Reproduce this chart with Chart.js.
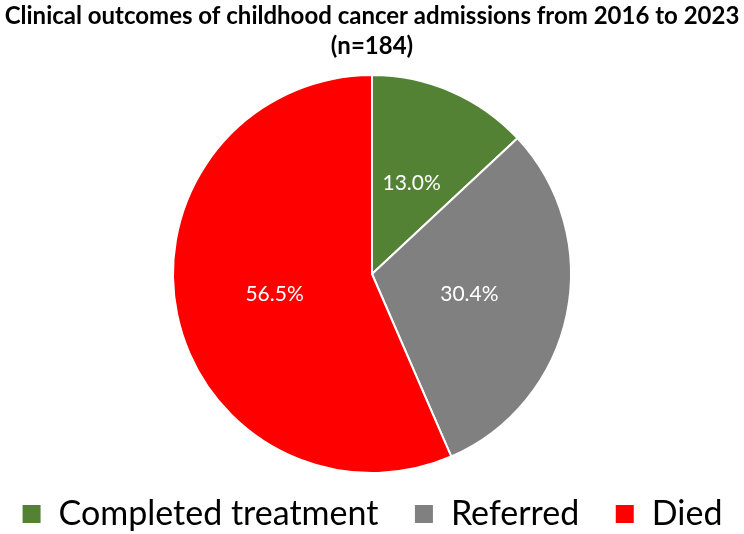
<!DOCTYPE html>
<html>
<head>
<meta charset="utf-8">
<script src="https://cdn.jsdelivr.net/npm/chart.js@4"></script>
<style>
  html, body { margin: 0; padding: 0; background: #fff; }
  #wrap { width: 744px; height: 534px; }
</style>
</head>
<body>
<div id="wrap"><canvas id="outcomeChart"></canvas></div>
<script>
const outcomeLabels = ["Completed treatment", "Referred", "Died"];
const outcomeCounts = [24, 56, 104];
const outcomeColors = ["#548235", "#808080", "#FF0000"];
const chartTitle = ["Clinical outcomes of childhood cancer admissions from 2016 to 2023", "(n=184)"];

// percentage text inside each slice
const sliceLabels = {
    id: "sliceLabels",
    afterDatasetsDraw(chart) {
        const ctx = chart.ctx;
        const meta = chart.getDatasetMeta(0);
        const total = outcomeCounts.reduce((a, b) => a + b, 0);
        ctx.save();
        ctx.font = "21px Lato, 'Open Sans', sans-serif";
        ctx.fillStyle = "#fff";
        ctx.textAlign = "center";
        ctx.textBaseline = "middle";
        meta.data.forEach((arc, i) => {
            const mid = (arc.startAngle + arc.endAngle) / 2;
            const r = arc.outerRadius * 0.5;
            ctx.fillText((outcomeCounts[i] / total * 100).toFixed(1) + "%",
                arc.x + Math.cos(mid) * r, arc.y + Math.sin(mid) * r);
        });
        ctx.restore();
    }
};

const ctx = document.getElementById("outcomeChart").getContext("2d");
new Chart(ctx, {
    type: "pie",
    data: {
        labels: outcomeLabels,
        datasets: [{
            data: outcomeCounts,
            backgroundColor: outcomeColors,
            borderColor: "#fff",
            borderWidth: 2,
            radius: 199
        }]
    },
    options: {
        responsive: true,
        maintainAspectRatio: false,
        animation: false,
        layout: { padding: { top: 0, bottom: -7 } },
        plugins: {
            title: {
                display: true,
                text: chartTitle,
                color: "#000",
                font: { family: "Lato, 'Open Sans', sans-serif", size: 24, weight: "bold", lineHeight: 1.25 },
                padding: { top: 1, bottom: 0 }
            },
            legend: {
                position: "bottom",
                labels: {
                    color: "#000",
                    font: { family: "Lato, 'Open Sans', sans-serif", size: 34 },
                    boxWidth: 20,
                    boxHeight: 20,
                    padding: 10,
                    // pad the gap between entries without adding legend height
                    generateLabels(chart) {
                        const items = Chart.controllers.pie.overrides.plugins.legend.labels.generateLabels(chart);
                        items.forEach((item, i) => {
                            if (i < items.length - 1) item.text += "\u2002\u2005";
                        });
                        return items;
                    }
                }
            },
            tooltip: { enabled: false }
        }
    },
    plugins: [sliceLabels]
});
</script>
</body>
</html>
